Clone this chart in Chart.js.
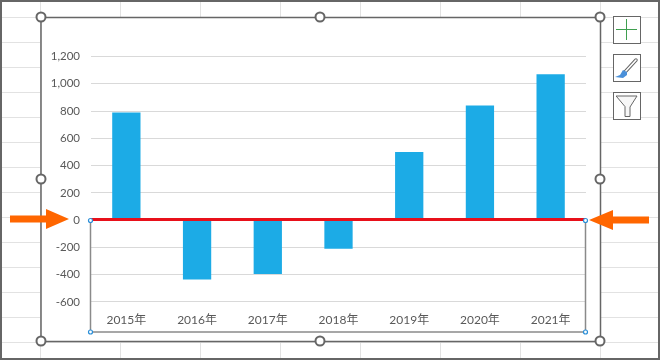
<!DOCTYPE html>
<html>
<head>
<meta charset="utf-8">
<style>
  body { margin: 0; background: #fff; }
  canvas { display: block; }
</style>
<script src="https://cdn.jsdelivr.net/npm/chart.js@4"></script>
</head>
<body>
<canvas id="chart" width="660" height="360"></canvas>
<script>
var years = ["2015年", "2016年", "2017年", "2018年", "2019年", "2020年", "2021年"];
var values = [790, -435, -395, -210, 500, 840, 1070];
var yTicks = [1200, 1000, 800, 600, 400, 200, 0, -200, -400, -600];

function line(c, x1, y1, x2, y2) {
  c.beginPath();
  c.moveTo(x1, y1);
  c.lineTo(x2, y2);
  c.stroke();
}

function poly(c, pts) {
  c.beginPath();
  c.moveTo(pts[0][0], pts[0][1]);
  for (var i = 1; i < pts.length; i++) c.lineTo(pts[i][0], pts[i][1]);
  c.closePath();
  c.fill();
}

// worksheet behind the chart and the chart frame
var sheet = {
  id: "sheet",
  beforeDraw: function (chart) {
    var c = chart.ctx;
    c.save();
    c.fillStyle = "#fff";
    c.fillRect(0, 0, 660, 360);
    c.strokeStyle = "#e2e2e2";
    c.lineWidth = 1;
    for (var x = 40.5; x < 660; x += 80) line(c, x, 0, x, 360);
    for (var y = 17.5; y < 360; y += 25) line(c, 0, y, 660, y);
    c.fillStyle = "#fff";
    c.fillRect(41, 17, 559, 324);
    c.strokeStyle = "#666";
    c.lineWidth = 1.5;
    c.strokeRect(41, 17.5, 559.5, 324);
    c.lineWidth = 2;
    c.strokeRect(1, 1, 658, 358);
    c.restore();
  }
};

// selection box, red line, arrows, handles, side buttons
var overlay = {
  id: "overlay",
  afterDraw: function (chart) {
    var c = chart.ctx;
    var a = chart.chartArea;
    var zero = Math.round(chart.scales.y.getPixelForValue(0));
    c.save();

    c.strokeStyle = "#8a8a8a";
    c.lineWidth = 1.5;
    c.strokeRect(a.left - 0.5, zero, a.right - a.left, a.bottom - zero);
    c.strokeStyle = "#e8101a";
    c.lineWidth = 3;
    line(c, a.left - 0.5, zero - 0.5, a.right - 0.5, zero - 0.5);

    [[a.left - 0.5, zero + 0.5], [a.right - 0.5, zero + 0.5], [a.left - 0.5, a.bottom], [a.right - 0.5, a.bottom]].forEach(function (p) {
      c.beginPath();
      c.arc(p[0], p[1], 2, 0, Math.PI * 2);
      c.fillStyle = "#fff";
      c.fill();
      c.strokeStyle = "#2b8fd8";
      c.lineWidth = 1.2;
      c.stroke();
    });

    c.fillStyle = "#ff6600";
    poly(c, [[10, 215.5], [46, 215.5], [46, 209], [69, 219], [46, 229], [46, 222.5], [10, 222.5]]);
    poly(c, [[649, 216.5], [613, 216.5], [613, 210], [589, 220], [613, 230], [613, 223.5], [649, 223.5]]);

    [[41, 17], [320, 17], [600, 17], [41, 179], [600, 179], [41, 341], [320, 341], [600, 341]].forEach(function (p) {
      c.beginPath();
      c.arc(p[0], p[1], 4.5, 0, Math.PI * 2);
      c.fillStyle = "#fff";
      c.fill();
      c.strokeStyle = "#666";
      c.lineWidth = 2;
      c.stroke();
    });

    [16.5, 54.5, 92.5].forEach(function (y) {
      c.fillStyle = "#fff";
      c.fillRect(613.5, y, 27, 27);
      c.strokeStyle = "#666";
      c.lineWidth = 1;
      c.strokeRect(613.5, y, 27, 27);
    });

    // plus
    c.strokeStyle = "#3f9f4f";
    c.lineWidth = 1;
    line(c, 626.5, 19, 626.5, 40);
    line(c, 616, 29.5, 637, 29.5);

    // brush
    c.strokeStyle = "#666";
    c.lineWidth = 3.5;
    c.lineCap = "round";
    line(c, 625, 72, 636, 60);
    c.strokeStyle = "#fff";
    c.lineWidth = 1.6;
    line(c, 625, 72, 636, 60);
    c.fillStyle = "#4a90d9";
    poly(c, [[615, 77], [620, 75], [623, 70], [627, 72], [627, 75], [623, 78]]);

    // funnel
    c.fillStyle = "#f7f7f7";
    c.strokeStyle = "#666";
    c.lineWidth = 1;
    c.beginPath();
    c.moveTo(616.5, 96);
    c.lineTo(637, 96);
    c.lineTo(630, 107);
    c.lineTo(630, 116.5);
    c.lineTo(625, 116.5);
    c.lineTo(625, 107);
    c.closePath();
    c.fill();
    c.stroke();

    c.restore();
  }
};

new Chart(document.getElementById("chart"), {
  type: "bar",
  data: {
    labels: years,
    datasets: [{
      data: values,
      backgroundColor: "#1cabe6",
      categoryPercentage: 1,
      barPercentage: 0.4
    }]
  },
  options: {
    responsive: false,
    animation: false,
    layout: { padding: { top: 56.5, right: 74, bottom: 0, left: 0 } },
    plugins: { legend: { display: false }, tooltip: { enabled: false } },
    scales: {
      x: {
        grid: { display: false },
        border: { display: false },
        ticks: {
          color: "#595959",
          font: { family: "Lato, 'Noto Sans CJK JP'", size: 12 },
          maxRotation: 0,
          autoSkip: false,
          mirror: true,
          padding: 5
        },
        afterFit: function (s) { s.height = 28; }
      },
      y: {
        min: -820,
        max: 1200,
        afterBuildTicks: function (s) {
          s.ticks = yTicks.map(function (v) { return { value: v }; });
        },
        grid: { color: "#d9d9d9", drawTicks: false },
        border: { display: false },
        ticks: {
          color: "#595959",
          font: { family: "Lato, 'Noto Sans CJK JP'", size: 11.5 },
          padding: 11,
          callback: function (v) { return v.toLocaleString("en-US"); }
        },
        afterFit: function (s) { s.width = 91; }
      }
    }
  },
  plugins: [sheet, overlay]
});
</script>
</body>
</html>
